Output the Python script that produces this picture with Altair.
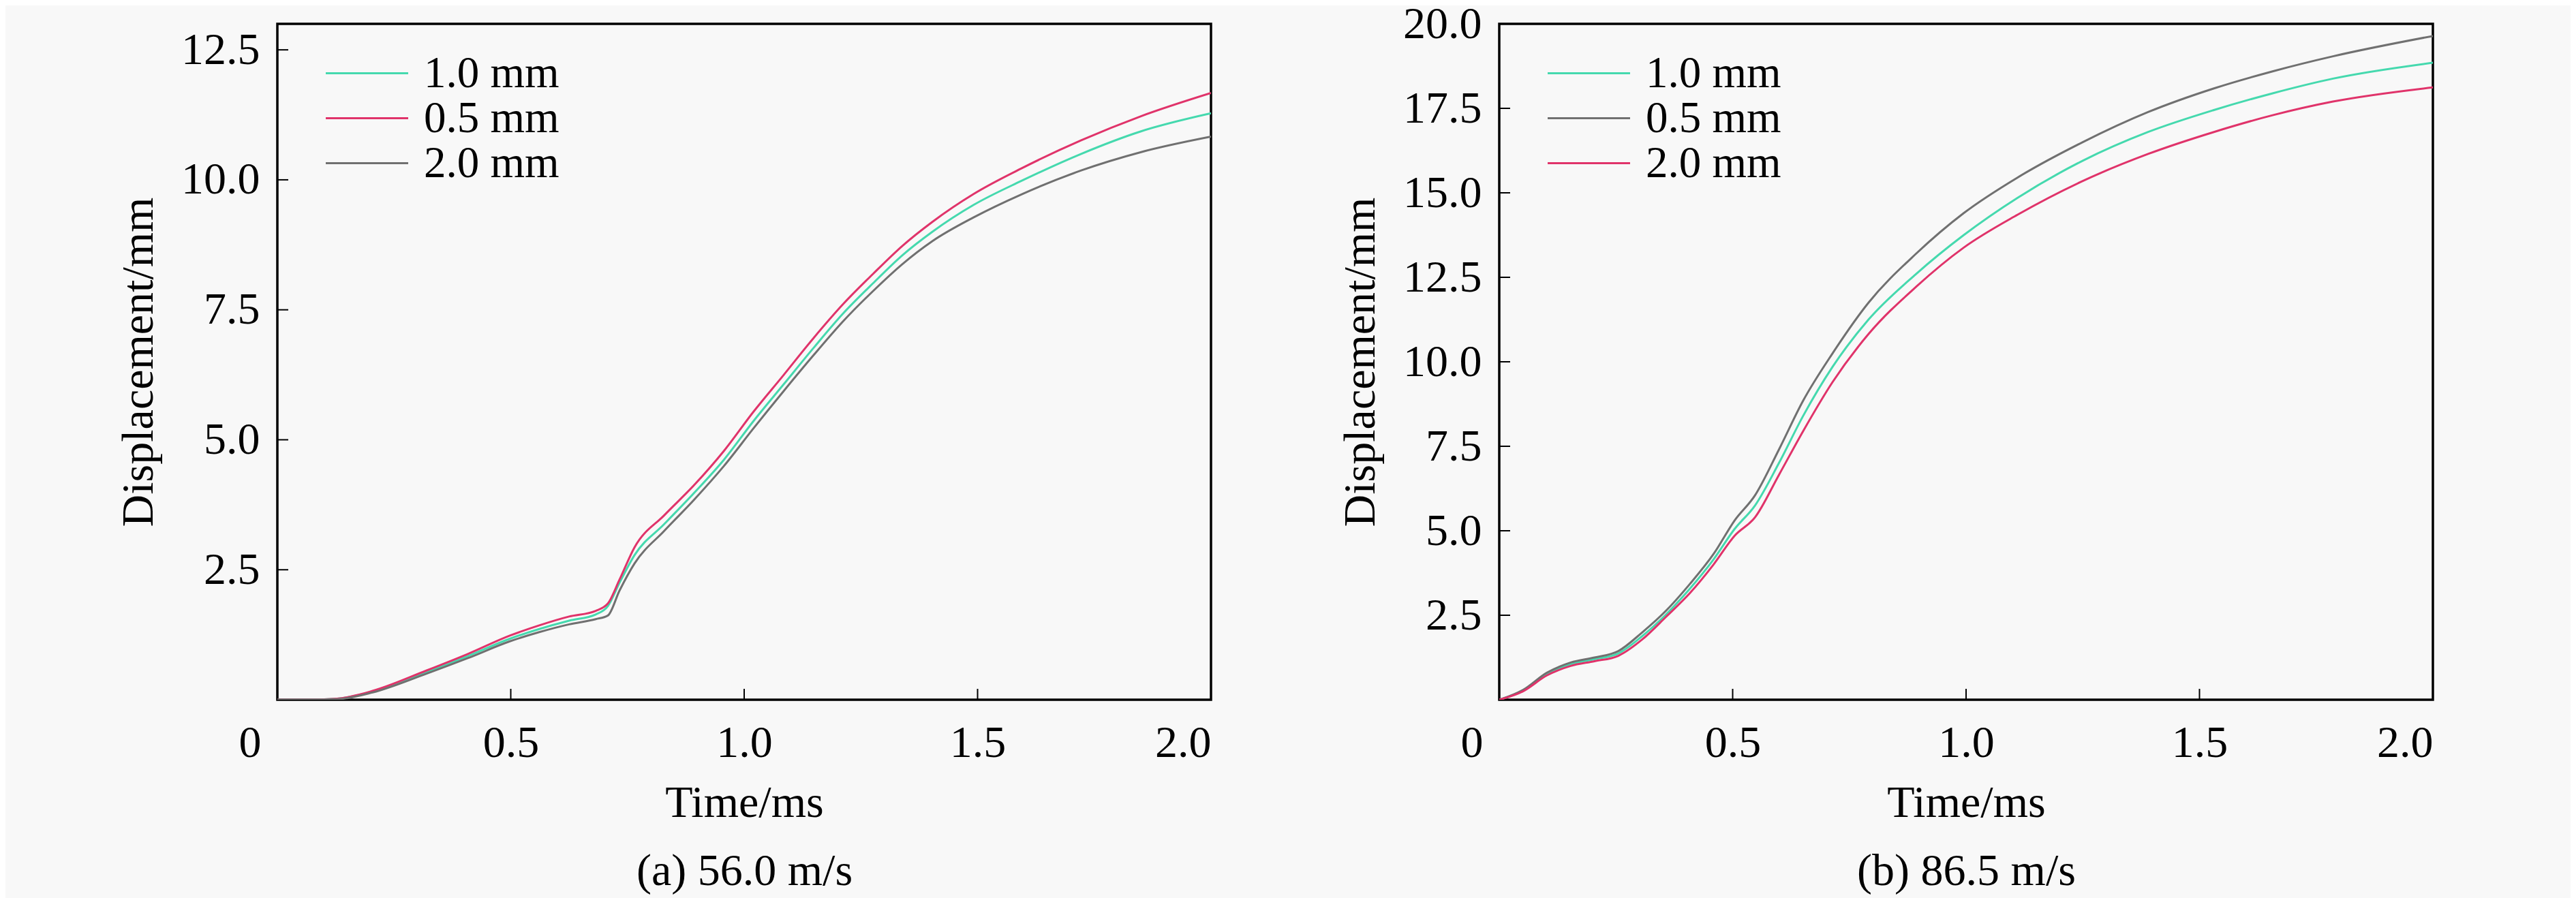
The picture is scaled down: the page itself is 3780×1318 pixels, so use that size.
import altair as alt
import pandas as pd

# ---------------- data ----------------
SERIES = ["1.0 mm", "0.5 mm", "2.0 mm"]

T_A = [0.0, 0.06, 0.128, 0.204, 0.319, 0.408, 0.497, 0.561, 0.625, 0.682, 0.708,
       0.733, 0.765, 0.829, 0.893, 0.957, 1.020, 1.084, 1.148, 1.212, 1.276,
       1.339, 1.403, 1.492, 1.594, 1.722, 1.849, 2.0]
A_10 = [0, 0, 0.02, 0.16, 0.53, 0.84, 1.17, 1.36, 1.52, 1.64, 1.80, 2.25, 2.78,
        3.38, 3.98, 4.62, 5.36, 6.06, 6.76, 7.43, 8.01, 8.55, 9.00, 9.52, 9.98,
        10.50, 10.93, 11.28]
A_05 = [0, 0, 0.02, 0.17, 0.56, 0.88, 1.23, 1.43, 1.60, 1.71, 1.85, 2.31, 2.93,
        3.55, 4.13, 4.79, 5.54, 6.24, 6.95, 7.61, 8.19, 8.73, 9.19, 9.73, 10.22,
        10.76, 11.22, 11.67]
A_20 = [0, 0, 0.01, 0.14, 0.50, 0.80, 1.12, 1.30, 1.45, 1.55, 1.62, 2.10, 2.62,
        3.25, 3.85, 4.50, 5.22, 5.93, 6.62, 7.28, 7.86, 8.38, 8.82, 9.28, 9.72,
        10.18, 10.53, 10.83]

T_B = [0.0, 0.051, 0.102, 0.153, 0.204, 0.255, 0.306, 0.357, 0.408, 0.459, 0.504,
       0.548, 0.599, 0.651, 0.714, 0.791, 0.893, 0.995, 1.110, 1.250, 1.390,
       1.531, 1.658, 1.786, 2.0]
B_10 = [0, 0.27, 0.76, 1.05, 1.20, 1.37, 1.88, 2.52, 3.28, 4.15, 5.05, 5.75, 7.00,
        8.40, 9.85, 11.25, 12.60, 13.75, 14.85, 15.95, 16.80, 17.45, 17.95, 18.38,
        18.85]
B_05 = [0, 0.29, 0.80, 1.10, 1.25, 1.44, 1.99, 2.63, 3.42, 4.31, 5.30, 6.05, 7.40,
        8.85, 10.25, 11.75, 13.20, 14.40, 15.45, 16.50, 17.39, 18.09, 18.60, 19.04,
        19.64]
B_20 = [0, 0.25, 0.72, 1.00, 1.14, 1.30, 1.78, 2.45, 3.15, 4.00, 4.85, 5.40, 6.65,
        7.95, 9.40, 10.82, 12.22, 13.38, 14.35, 15.35, 16.15, 16.80, 17.30, 17.70,
        18.12]

TEAL, PINK, GRAY = "#45d9ae", "#e0336a", "#707070"
COLORS_A = [TEAL, PINK, GRAY]
COLORS_B = [TEAL, GRAY, PINK]

X_TICKS = [0, 0.5, 1.0, 1.5, 2.0]
Y_TICKS_A = [2.5, 5.0, 7.5, 10.0, 12.5]
Y_TICKS_B = [2.5, 5.0, 7.5, 10.0, 12.5, 15.0, 17.5, 20.0]
Y_MAX_A = 13
Y_MAX_B = 20

CAPTION_A = "(a) 56.0 m/s"
CAPTION_B = "(b) 86.5 m/s"

FONT = "Liberation Serif, Times New Roman, serif"
FS = 66
W, H = 1370, 992
TICK_LEN = 16


def panel(t, vals, colors, ymax, yticks, caption):
    rows = []
    for name, v in zip(SERIES, vals):
        for tt, vv in zip(t, v):
            rows.append({"t": tt, "d": vv, "s": name})
    df = pd.DataFrame(rows)

    xs = alt.Scale(domain=[0, 2], nice=False, zero=False)
    ys = alt.Scale(domain=[0, ymax], nice=False, zero=False)

    x_axis = alt.Axis(
        values=X_TICKS,
        labelExpr="datum.value === 0 ? '0' : format(datum.value, '.1f')",
        labelBaseline="alphabetic",
        labelPadding=83,
        labelOffset={"condition": {"test": "datum.value === 0", "value": -57}, "value": 0},
        title=["Time/ms", caption],
        titleLineHeight=100,
        titleBaseline="alphabetic",
        titleX=W / 2,
        titleY=171,
        titleAlign="center",
    )
    y_axis = alt.Axis(
        values=yticks,
        format=".1f",
        labelPadding=26,
        title="Displacement/mm",
        titleAngle=270,
        titleBaseline="alphabetic",
        titleAlign="center",
        titleX=-184,
        titleY=H / 2,
    )

    lines = alt.Chart(df).mark_line(strokeWidth=3, interpolate="monotone", clip=True).encode(
        x=alt.X("t:Q", scale=xs, axis=x_axis),
        y=alt.Y("d:Q", scale=ys, axis=y_axis),
        color=alt.Color("s:N", sort=SERIES, scale=alt.Scale(domain=SERIES, range=colors),
                        legend=alt.Legend(
                            title=None, orient="none", legendX=99, legendY=40,
                            symbolType="M-7.56,0H7.56", symbolSize=256,
                            symbolStrokeWidth=3, labelOffset=51, padding=0,
                            rowPadding=0, labelFont=FONT, labelFontSize=65,
                            labelColor="black", labelLimit=0)),
    )

    xt = alt.Chart(pd.DataFrame({"t": X_TICKS[1:-1]})).mark_rule(color="black", strokeWidth=2).encode(
        x=alt.X("t:Q", scale=xs, axis=x_axis),
        y=alt.value(H), y2=alt.value(H - TICK_LEN),
    )
    yt = alt.Chart(pd.DataFrame({"d": [v for v in yticks if v < ymax]})).mark_rule(color="black", strokeWidth=2).encode(
        y=alt.Y("d:Q", scale=ys, axis=y_axis),
        x=alt.value(0), x2=alt.value(TICK_LEN),
    )
    return alt.layer(lines, xt, yt).properties(width=W, height=H)


left = panel(T_A, [A_10, A_05, A_20], COLORS_A, Y_MAX_A, Y_TICKS_A, CAPTION_A)
right = panel(T_B, [B_10, B_05, B_20], COLORS_B, Y_MAX_B, Y_TICKS_B, CAPTION_B)

chart = alt.hconcat(left, right, spacing=423, bounds="flush").resolve_scale(
    color="independent", x="independent", y="independent"
).properties(
    autosize=alt.AutoSizeParams(type="none"),
    padding={"left": 399, "top": 27, "right": 3365, "bottom": 1275},
).configure(
    background="#f8f8f8",
).configure_view(
    stroke="black", strokeWidth=3.5,
).configure_axis(
    domain=False, ticks=False, tickSize=0, grid=False,
    labelFont=FONT, labelFontSize=FS, labelColor="black",
    titleFont=FONT, titleFontSize=FS, titleFontWeight="normal", titleColor="black",
)

chart.save("out.html", embed_options={"renderer": "svg", "actions": False})
